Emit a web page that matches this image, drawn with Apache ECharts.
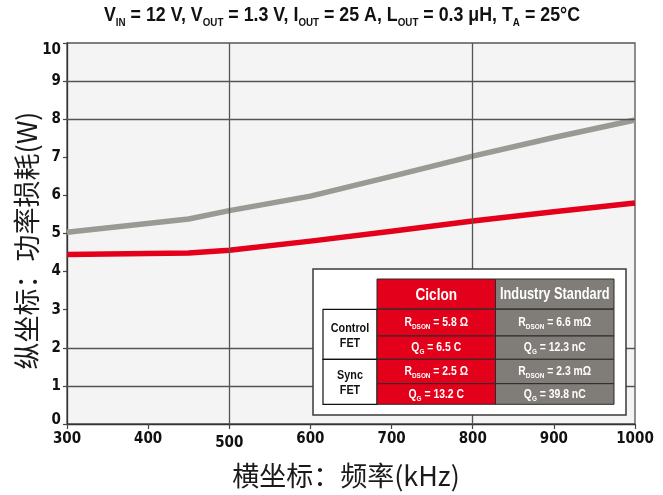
<!DOCTYPE html>
<html><head><meta charset="utf-8">
<script src="https://cdn.jsdelivr.net/npm/echarts@6/dist/echarts.min.js"></script>
<style>html,body{margin:0;padding:0;background:#fff}#c{width:663px;height:495px}</style>
</head><body><div id="c"></div>
<script>
// ---- data ----
const freqs = [300, 450, 500, 600, 700, 800, 900, 1000];
const industryLoss = [5.03, 5.38, 5.60, 5.98, 6.50, 7.03, 7.52, 7.98];
const ciclonLoss = [4.45, 4.49, 4.56, 4.80, 5.06, 5.33, 5.57, 5.80];
const xRange = [300, 1000, 100];
const yRange = [0, 10, 1];
const gridYValues = [1, 2, 8, 9];
const gridXValues = [500, 800];
const xName = '横坐标：频率(kHz)';
const yName = '纵坐标：功率损耗(W)';
const titleParts = [['V','IN',' = 12 V, '],['V','OUT',' = 1.3 V, '],['I','OUT',' = 25 A, '],['L','OUT',' = 0.3 μH, '],['T','A',' = 25°C']];
const tableCols = ['Ciclon', 'Industry Standard'];
const tableGroups = ['Control\nFET', 'Sync\nFET'];
const ciclonSpecs = [['R','DSON',' = 5.8 Ω'],['Q','G',' = 6.5 C'],['R','DSON',' = 2.5 Ω'],['Q','G',' = 13.2 C']];
const industrySpecs = [['R','DSON',' = 6.6 mΩ'],['Q','G',' = 12.3 nC'],['R','DSON',' = 2.3 mΩ'],['Q','G',' = 39.8 nC']];

// ---- style ----
const BASE = '"Liberation Sans","Arimo",sans-serif';
const NARROW = '"Liberation Sans Narrow","DejaVu Sans",sans-serif';
const CJK = '"Noto Sans CJK SC","Noto Sans",sans-serif';
const RED = '#e2001a', GRAY = '#807d79', LINE_GRAY = '#9b9994', LINE_RED = '#e4001b';

const chart = echarts.init(document.getElementById('c'), null, {renderer: 'canvas'});

function subText(parts, a, b) {
  return parts.map(p => `{${a}|${p[0]}}{${b}|${p[1]}}{${a}|${p[2]}}`).join('');
}

const graphic = [];
// title (condensed via horizontal scale)
graphic.push({type: 'text', x: 104, y: 17, scaleX: 0.89, z: 20, style: {
  text: subText(titleParts, 'm', 's'), x: 0, y: 0, align: 'left', verticalAlign: 'middle',
  rich: {
    m: {fontSize: 20, fontWeight: 'bold', fontFamily: BASE, fill: '#111', verticalAlign: 'bottom', padding: [0, 0, 3, 0]},
    s: {fontSize: 11, fontWeight: 'bold', fontFamily: BASE, fill: '#111', verticalAlign: 'bottom'}
  }}});

// table geometry
const T = {x: 313, y: 269, w: 313, h: 146,
  labX: 323, labW: 54, c1X: 377, c2X: 495.5, cW: 118.5,
  headY: 279, headH: 30, rows: [309.3, 336, 359.3, 383.7, 404.3]};

graphic.push({type: 'rect', z: 10, shape: {x: T.x, y: T.y, width: T.w, height: T.h},
  style: {fill: '#fff', stroke: '#3a3a3a', lineWidth: 1.5}});
// headers
[[T.c1X, RED], [T.c2X, GRAY]].forEach((c, i) => {
  graphic.push({type: 'rect', z: 11, shape: {x: c[0], y: T.headY, width: T.cW, height: T.headH},
    style: {fill: c[1], stroke: '#2a2a2a', lineWidth: 1}});
  graphic.push({type: 'text', z: 12, x: c[0] + T.cW / 2, y: T.headY + T.headH / 2 + 1, scaleX: 0.8,
    style: {text: tableCols[i], x: 0, y: 0,
    align: 'center', verticalAlign: 'middle', fill: '#fff',
    font: `bold ${i === 0 ? 17 : 16}px ${BASE}`}});
});
// group label cells
[[T.rows[0], T.rows[2]], [T.rows[2], T.rows[4]]].forEach((r, i) => {
  graphic.push({type: 'rect', z: 11, shape: {x: T.labX, y: r[0], width: T.labW, height: r[1] - r[0]},
    style: {fill: '#fff', stroke: '#111', lineWidth: 1.2}});
  graphic.push({type: 'text', z: 12, x: T.labX + T.labW / 2, y: (r[0] + r[1]) / 2 + 1, scaleX: 0.8,
    style: {text: tableGroups[i], x: 0, y: 0,
    align: 'center', verticalAlign: 'middle', fill: '#111', lineHeight: 15,
    font: `bold 13.5px ${BASE}`}});
});
// data cells
const cellRich = {
  a: {fontSize: 13, fontWeight: 'bold', fontFamily: BASE, fill: '#fff', verticalAlign: 'bottom', padding: [0, 0, 2, 0]},
  b: {fontSize: 8, fontWeight: 'bold', fontFamily: BASE, fill: '#fff', verticalAlign: 'bottom'}
};
[[T.c1X, RED, ciclonSpecs], [T.c2X, GRAY, industrySpecs]].forEach(c => {
  for (let r = 0; r < 4; r++) {
    const y0 = T.rows[r], y1 = T.rows[r + 1];
    graphic.push({type: 'rect', z: 11, shape: {x: c[0], y: y0, width: T.cW, height: y1 - y0},
      style: {fill: c[1], stroke: '#2a2a2a', lineWidth: 1}});
    graphic.push({type: 'text', z: 12, x: c[0] + T.cW / 2, y: (y0 + y1) / 2 + 1, scaleX: 0.8,
      style: {text: subText([c[2][r]], 'a', 'b'), x: 0, y: 0,
      align: 'center', verticalAlign: 'middle', rich: cellRich}});
  }
});

const labelFont = {fontSize: 15, fontWeight: 'bold condensed', fontFamily: NARROW, color: '#111'};

const option = {
  animation: false,
  backgroundColor: '#fff',
  grid: {left: 67, right: 28, top: 43, bottom: 71, show: true, backgroundColor: '#f4f4f4',
    borderColor: '#555', borderWidth: 1.3},
  xAxis: {
    type: 'value', min: xRange[0], max: xRange[1], interval: xRange[2],
    name: xName, nameLocation: 'middle', nameGap: 38, nameMoveOverlap: false,
    nameTextStyle: {fontFamily: CJK, fontSize: 27, color: '#1a1a1a', padding: [0, 10, 0, 0]},
    axisLine: {lineStyle: {color: '#333', width: 1.3}},
    axisTick: {show: true, length: 5, lineStyle: {color: '#444', width: 1.2}},
    splitLine: {show: false},
    axisLabel: {
      margin: 8,
      formatter: v => v === 500 ? '{d|' + v + '}' : '{n|' + v + '}',
      rich: {
        n: Object.assign({}, labelFont),
        d: Object.assign({padding: [4, 0, 0, 0]}, labelFont)
      }
    }
  },
  yAxis: {
    type: 'value', min: yRange[0], max: yRange[1], interval: yRange[2],
    name: yName, nameLocation: 'middle', nameGap: 27, nameRotate: 90, nameMoveOverlap: false,
    nameTextStyle: {fontFamily: CJK, fontSize: 27, color: '#1a1a1a', padding: [0, 14, 0, 0]},
    axisLine: {show: true, lineStyle: {color: '#333', width: 1.3}},
    axisTick: {show: true, length: 4, lineStyle: {color: '#444', width: 1.2}},
    splitLine: {show: false},
    axisLabel: Object.assign({
      margin: 6, verticalAlignMaxLabel: 'top', verticalAlignMinLabel: 'bottom',
      formatter: v => v === 0 ? '{z|0}' : String(v),
      rich: {z: Object.assign({lineHeight: 8}, labelFont)}
    }, labelFont)
  },
  series: [
    {
      type: 'line', name: 'grid', z: 1, silent: true, symbol: 'none',
      data: freqs.map((f, i) => [f, industryLoss[i]]),
      lineStyle: {opacity: 0},
      markLine: {
        silent: true, symbol: 'none', label: {show: false}, animation: false,
        lineStyle: {color: '#555', width: 1.3, type: 'solid'},
        emphasis: {disabled: true},
        data: gridYValues.map(v => ({yAxis: v})).concat(gridXValues.map(v => ({xAxis: v})))
      }
    },
    {
      type: 'line', name: 'Industry Standard', z: 3, symbol: 'none', silent: true,
      data: freqs.map((f, i) => [f, industryLoss[i]]),
      lineStyle: {color: LINE_GRAY, width: 5.5, cap: 'butt', join: 'round'}
    },
    {
      type: 'line', name: 'Ciclon', z: 4, symbol: 'none', silent: true,
      data: freqs.map((f, i) => [f, ciclonLoss[i]]),
      lineStyle: {color: LINE_RED, width: 5.5, cap: 'butt', join: 'round'}
    }
  ],
  graphic: graphic
};
chart.setOption(option);
</script>
</body></html>
